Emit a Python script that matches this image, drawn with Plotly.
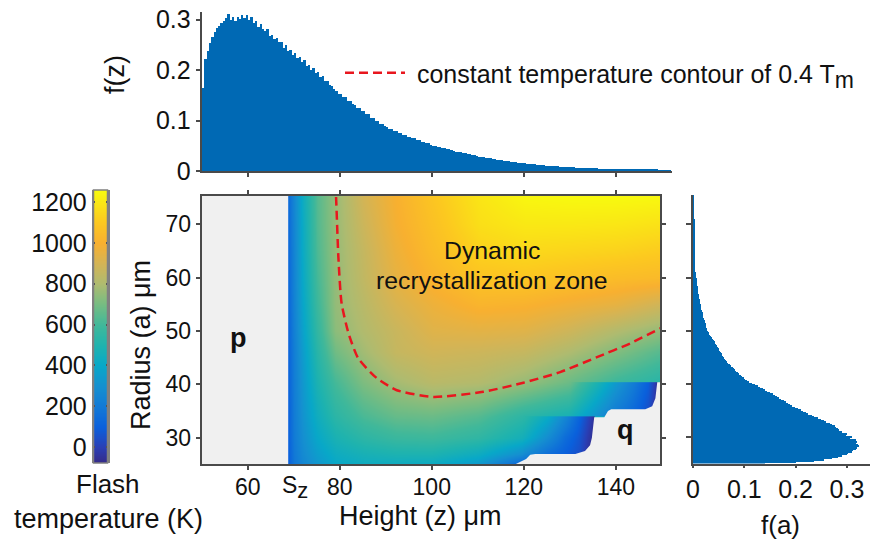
import plotly.graph_objects as go

W, H = 870, 540
FONT = "Liberation Sans"
INK = "#111111"
AXIS = "#4a4a4a"
BLUE = "#0069b4"
RED = "#e8161e"
GREY = "#f0f0f0"

# ---------- data ----------
# temperature field (K): columns are height z, rows are radius a
field_z = [68.8, 70, 72, 75, 79, 85, 92, 100, 110, 120, 130, 140, 149.6]
field_a = [25.07, 27, 30, 34, 40.4, 46, 50, 55, 60, 65, 70, 75.3]
field_t = [
    [100, 190, 260, 330, 400, 430, 430, 420, 340, 100, 100, 100, 100],
    [100, 200, 280, 360, 430, 470, 490, 490, 430, 280, 200, 150, 100],
    [105, 210, 300, 400, 480, 540, 580, 590, 550, 450, 380, 320, 250],
    [105, 215, 320, 440, 540, 620, 670, 680, 640, 540, 470, 400, 340],
    [110, 220, 340, 490, 610, 715, 785, 830, 815, 760, 680, 590, 530],
    [115, 225, 360, 530, 690, 780, 860, 890, 880, 860, 800, 720, 640],
    [120, 235, 380, 560, 740, 810, 870, 930, 940, 930, 880, 810, 750],
    [125, 245, 400, 590, 755, 830, 910, 970, 1020, 1010, 980, 950, 890],
    [128, 250, 415, 610, 755, 850, 950, 1020, 1080, 1090, 1070, 1050, 1040],
    [132, 255, 425, 625, 758, 860, 970, 1050, 1130, 1150, 1140, 1130, 1110],
    [135, 260, 430, 635, 760, 880, 990, 1070, 1170, 1200, 1200, 1195, 1180],
    [140, 265, 440, 640, 760, 900, 1000, 1090, 1190, 1245, 1255, 1255, 1250],
]
# cooler steps beside the unbonded region q
step1_z = [120, 125, 129, 132, 134, 135.4]
step1_a = [25.07, 27, 30, 34]
step1_t = [
    [100, 100, 60, 30, -40, -70],
    [280, 160, 100, 50, -40, -70],
    [450, 290, 150, 70, -20, -70],
    [540, 420, 260, 120, 20, -60],
]
step2_z = [130, 136, 140, 144, 147, 149.1]
step2_a = [34, 40.4]
step2_t = [
    [470, 300, 190, 120, 40, -70],
    [680, 480, 340, 210, 100, -60],
]
# boundary of region q
q_z = [118.1, 119.2, 120.5, 121.4, 122.5, 131.2, 133.3, 134.4, 134.8, 135.3, 137.5,
       138.3, 139.0, 146.4, 147.9, 148.6, 149.0, 149.7, 149.7, 118.1]
q_a = [25.0, 25.5, 26.0, 26.8, 26.95, 26.95, 27.5, 28.6, 30.0, 33.85, 33.85,
       35.0, 35.35, 35.35, 35.9, 37.4, 40.4, 40.4, 25.0, 25.0]
# contour of 0.4 Tm
contour_z = [79.0, 79.2, 79.7, 80.4, 81.9, 84.0, 88.0, 92.4, 100.3, 111.2, 119.9,
             127.9, 135.9, 143.2, 149.7, 152.1]
contour_a = [77.75, 75.1, 63.9, 55.2, 49.6, 44.9, 41.2, 38.9, 37.65, 38.6, 40.3,
             42.3, 45.1, 47.7, 50.5, 51.5]
# colour bar stops (K, colour)
cb_values = [-78, 0, 100, 200, 300, 400, 500, 600, 700, 800, 900, 1000, 1100, 1259]
cb_colors = ["#352a87", "#2a3fb5", "#0a60dc", "#127ad6", "#1590d0", "#08a8c8", "#1fb3ae",
             "#40b89a", "#76bc82", "#aebb70", "#d4b455", "#f8b030", "#fcc820", "#f8fb0e"]
# f(z): 0.5 wide bins from z = 50 to 130, then 1 wide bins to 152
fz_fine = [.165, .222, .238, .254, .266, .276, .283, .287, .293, .298,
           .304, .312, .300, .305, .298, .306, .301, .310, .303, .309,
           .300, .305, .294, .297, .286, .291, .282, .278, .282, .268,
           .270, .261, .263, .255, .255, .244, .249, .238, .240, .230,
           .234, .223, .226, .216, .219, .209, .211, .200, .204, .194,
           .196, .187, .189, .179, .178, .170, .169, .162, .159, .153,
           .152, .146, .146, .139, .138, .132, .131, .125, .124, .119,
           .118, .112, .112, .106, .105, .100, .100, .094, .093, .089,
           .088, .083, .083, .079, .079, .075, .075, .072, .071, .068,
           .068, .065, .065, .061, .061, .058, .058, .055, .055, .052,
           .0505, .0495, .0485, .0470, .0465, .0450, .0445, .0430, .0420, .0400,
           .0385, .0375, .0368, .0358, .0350, .0340, .0332, .0320, .0310, .0295,
           .0280, .0274, .0268, .0260, .0254, .0248, .0240, .0232, .0225, .0218,
           .0210, .0205, .0198, .0192, .0187, .0180, .0175, .0168, .0162, .0156,
           .0150, .0146, .0140, .0136, .0130, .0126, .0122, .0118, .0112, .0108,
           .0104, .0100, .0097, .0094, .0091, .0088, .0085, .0082, .0079, .0076]
fz_coarse = [.0072, .0065, .006, .0057, .0054, .005, .0047, .0044, .0042, .004, .0037,
             .0035, .0032, .003, .0028, .0026, .0024, .0022, .002, .0018, .0016, .0014]
# f(a): 0.25 wide bins from a = 25 to 50, 0.5 wide to 60, 1 wide to 76
fa_fine = [.14, .20, .235, .255, .27, .283, .29, .30, .303, .31, .312, .318, .32, .323,
           .322, .318, .32, .312, .317, .306, .31, .298, .30, .29, .291, .284, .283, .278,
           .277, .27, .267, .26, .256, .25, .243, .236, .231, .225, .221, .215,
           .210, .205, .198, .193, .189, .185, .181, .177, .172, .168, .164, .160, .155, .150,
           .145, .141, .136, .131, .126, .121, .115, .110, .106, .102, .099, .096, .093, .090,
           .087, .084, .081, .079, .077, .074, .072, .069, .067, .065, .063, .061, .059, .057,
           .056, .054, .053, .051, .050, .048, .046, .045, .043, .042, .040, .038, .037, .035,
           .034, .032, .031, .029]
fa_mid = [.028, .026, .025, .023, .022, .020, .019, .017, .016, .015, .014, .013, .012, .011,
          .010, .0095, .009, .008, .0075, .007]
fa_coarse = [.0055, .0045, .004, .0035, .003, .0028, .0026, .0024, .0022, .002, .002, .0018,
             .0016, .0015, .0014, .0012]
z_ticks = [60, 80, 100, 120, 140]
a_ticks = [30, 40, 50, 60, 70]
f_ticks = [0, 0.1, 0.2, 0.3]
f_labels = ["0", "0.1", "0.2", "0.3"]
t_ticks = [0, 200, 400, 600, 800, 1000, 1200]


# ---------- helpers ----------
def dx(x0, x1):
    return [x0 / W, x1 / W]


def dy(top, bottom):
    return [1 - bottom / H, 1 - top / H]


def bins(start, width, n):
    return [start + width * (i + 0.5) for i in range(n)], [width] * n


def edge_pad(xs, ys, zz):
    """Repeat the outer rows and columns so smoothing stops exactly at the edge."""
    e = 1e-3
    px_ = [xs[0]] + [xs[0] + e] + xs[1:-1] + [xs[-1] - e] + [xs[-1]]
    py_ = [ys[0]] + [ys[0] + e] + ys[1:-1] + [ys[-1] - e] + [ys[-1]]
    rows = [[r[0]] + r + [r[-1]] for r in zz]
    return px_, py_, [rows[0]] + rows + [rows[-1]]


zmin, zmax = cb_values[0], cb_values[-1]
colorscale = [[(v - zmin) / (zmax - zmin), c] for v, c in zip(cb_values, cb_colors)]
hm = dict(colorscale=colorscale, zmin=zmin, zmax=zmax, zsmooth="best", showscale=False, hoverinfo="skip")

fig = go.Figure()
for xs, ys, zz in [(field_z, field_a, field_t), (step2_z, step2_a, step2_t), (step1_z, step1_a, step1_t)]:
    a_, b_, c_ = edge_pad(xs, ys, zz)
    fig.add_trace(go.Heatmap(x=a_, y=b_, z=c_, xaxis="x", yaxis="y", **hm))
fig.add_trace(go.Scatter(x=q_z, y=q_a, mode="lines", fill="toself", fillcolor=GREY, line=dict(width=0),
                         xaxis="x", yaxis="y", showlegend=False, hoverinfo="skip"))
fig.add_trace(go.Scatter(x=contour_z, y=contour_a, mode="lines", cliponaxis=False,
                         line=dict(color=RED, width=2.5, dash="9px,5px", shape="spline", smoothing=0.6),
                         name="\u00a0constant temperature contour of 0.4 T<sub><span style='font-size:23px'>m</span></sub>",
                         xaxis="x", yaxis="y", showlegend=True))

z1, w1 = bins(50, 0.5, len(fz_fine))
z2, w2 = bins(130, 1, len(fz_coarse))
fig.add_trace(go.Bar(x=z1 + z2, y=fz_fine + fz_coarse, width=w1 + w2, marker=dict(color=BLUE, line=dict(width=0)),
                     xaxis="x2", yaxis="y2", showlegend=False))
a1, h1 = bins(25, 0.25, len(fa_fine))
a2, h2 = bins(50, 0.5, len(fa_mid))
a3, h3 = bins(60, 1, len(fa_coarse))
fig.add_trace(go.Bar(y=a1 + a2 + a3, x=fa_fine + fa_mid + fa_coarse, width=h1 + h2 + h3, orientation="h",
                     marker=dict(color=BLUE, line=dict(width=0)), xaxis="x3", yaxis="y3", showlegend=False))
a_, b_, c_ = edge_pad([0, 1], cb_values, [[v, v] for v in cb_values])
fig.add_trace(go.Heatmap(x=a_, y=b_, z=c_, xaxis="x4", yaxis="y4", **hm))

tick = dict(showgrid=False, zeroline=False, ticks="outside", tickcolor=AXIS, tickwidth=1.5, showline=True,
            linecolor=AXIS, tickfont=dict(family=FONT, size=23, color=INK))
big = dict(tick, tickfont=dict(family=FONT, size=25, color=INK))

fig.update_layout(
    width=W, height=H, margin=dict(l=0, r=0, t=0, b=0, autoexpand=False), autosize=False,
    paper_bgcolor="white", plot_bgcolor="white", font=dict(family=FONT, color=INK), bargap=0,
    xaxis=dict(tick, domain=dx(201.7, 660), range=[50, 149.6], anchor="y", tickvals=z_ticks, ticklen=4,
               mirror="ticks", linewidth=2, ticklabelstandoff=-3),
    yaxis=dict(tick, domain=dy(196, 464), range=[25.07, 75.3], anchor="x", tickvals=a_ticks, ticklen=4,
               mirror="ticks", linewidth=2),
    xaxis2=dict(tick, domain=dx(201.7, 672.4), range=[50, 152.3], anchor="y2", tickvals=z_ticks, showticklabels=False,
                ticklen=4, linewidth=1.5),
    yaxis2=dict(big, domain=dy(12, 171), range=[0, 0.315], anchor="x2", tickvals=f_ticks, ticktext=f_labels, ticklen=4,
                linewidth=2),
    xaxis3=dict(big, domain=dx(693, 870), range=[0, 0.345], anchor="y3", tickvals=f_ticks, ticktext=f_labels, ticklen=3,
                linewidth=1.5),
    yaxis3=dict(tick, domain=dy(195, 463.5), range=[25.1, 75.5], anchor="x3", tickvals=a_ticks, showticklabels=False,
                ticklen=5, linewidth=1.5),
    xaxis4=dict(domain=dx(93.5, 107.5), range=[0, 1], anchor="y4", visible=False),
    yaxis4=dict(big, domain=dy(190, 463), range=[zmin, zmax], anchor="x4", tickvals=t_ticks, ticks="inside", ticklen=2,
                mirror="ticks", linecolor="#808080", linewidth=1.5),
    legend=dict(x=340 / W, y=1 - 50 / H, xanchor="left", yanchor="top", bgcolor="rgba(0,0,0,0)",
                font=dict(family=FONT, size=25, color=INK), itemwidth=60, itemsizing="trace"),
    shapes=[dict(type="rect", xref="x", yref="y", x0=50, x1=field_z[0], y0=25.07, y1=75.3,
                 fillcolor=GREY, line=dict(width=0), layer="below"),
            dict(type="rect", xref="x4 domain", yref="y4 domain", x0=0, x1=1, y0=0, y1=1,
                 line=dict(color="#808080", width=1.5), fillcolor="rgba(0,0,0,0)")],
)


def note(text, x, y, size=26, rot=0, bold=False):
    fig.add_annotation(xref="paper", yref="paper", x=x / W, y=1 - y / H, text=f"<b>{text}</b>" if bold else text,
                       showarrow=False, textangle=rot, xanchor="center", yanchor="middle",
                       font=dict(family=FONT, size=size, color=INK))


note("f(z)", 115, 75, 27, -90)
note("Radius (a) μm", 141, 345, 27, -90)
note("Height (z) μm", 420, 516, 27)
note("f(a)", 780, 525, 26)
note("Flash", 108, 484, 26)
note("temperature (K)", 108, 519, 27)
note("S<sub><span style='font-size:22px'>z</span></sub>", 295, 487, 23)
note("Dynamic", 492, 250, 24.8)
note("recrystallization zone", 492, 280, 24.8)
note("p", 239, 338, 27, bold=True)
note("q", 625, 430, 27, bold=True)

fig.write_html("out.html", config=dict(displayModeBar=False),
               post_script="document.body.style.margin='0';document.documentElement.style.overflow='hidden';")
